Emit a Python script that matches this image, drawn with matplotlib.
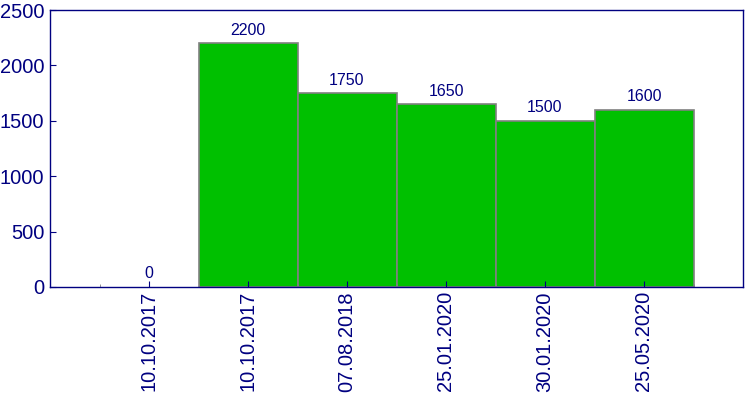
import numpy as np
import matplotlib.pyplot as plt
from matplotlib.ticker import MultipleLocator

dates = ['10.10.2017', '10.10.2017', '07.08.2018', '25.01.2020', '30.01.2020', '25.05.2020']
values = [0, 2200, 1750, 1650, 1500, 1600]

navy = '#000080'
plt.rcParams['font.family'] = ['Liberation Sans', 'DejaVu Sans']

fig = plt.figure(figsize=(7.5, 4), dpi=100)
ax = fig.add_axes([50 / 750, 1 - 287 / 400, 693 / 750, 277 / 400])

x = np.arange(len(dates))
edges = ['none' if v == 0 else '#808080' for v in values]
ax.bar(x, values, width=1.0, color='#00c000', edgecolor=edges, linewidth=1.2)
for xi, v in zip(x, values):
    ax.annotate(str(v), (xi, v), xytext=(0, 4), textcoords='offset points',
                ha='center', va='bottom', fontsize=11.5, color=navy)

ax.set_xlim(-1, len(dates))
ax.set_ylim(0, 2500)
ax.set_xticks(x)
ax.set_xticklabels(dates, rotation=90, fontsize=14.5, color=navy)
ax.xaxis.set_minor_locator(MultipleLocator(1, offset=0.5))
ax.yaxis.set_major_locator(MultipleLocator(500))
ax.tick_params(axis='y', labelsize=14.5, labelcolor=navy, direction='in', length=4, color=navy, pad=4)
ax.tick_params(axis='x', which='major', direction='in', length=4, color=navy, pad=3)
ax.tick_params(axis='x', which='minor', direction='in', length=2, color='#808080')
for s in ax.spines.values():
    s.set_color(navy)
    s.set_linewidth(1)

fig.savefig('out.png', dpi=100)
